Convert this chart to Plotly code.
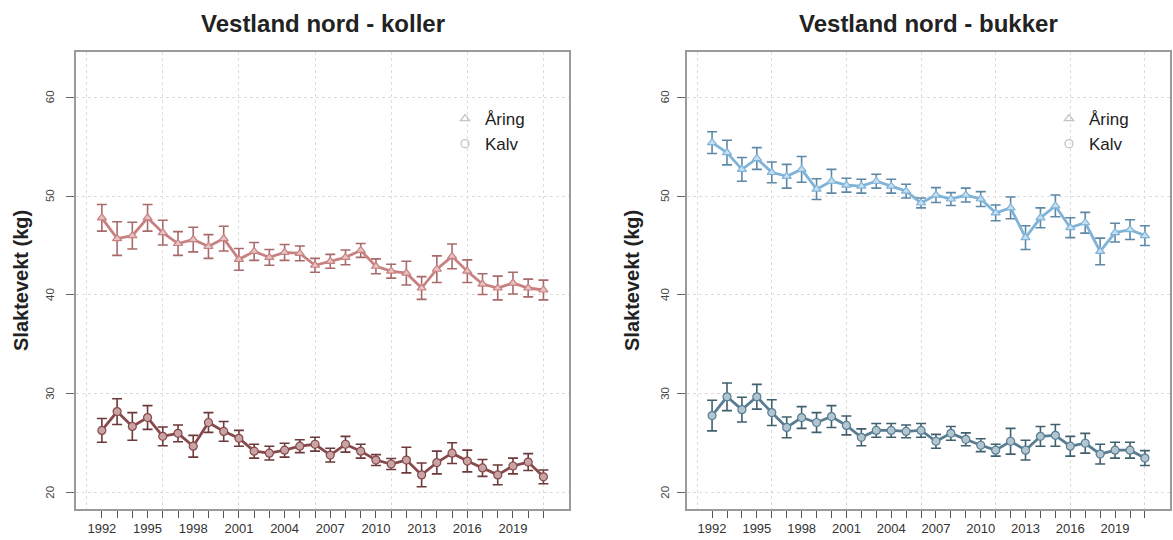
import plotly.graph_objects as go

years = list(range(1992, 2022))
tick_labels = [str(y) if (y - 1992) % 3 == 0 else "" for y in years]
y_ticks = [20, 30, 40, 50, 60]

koller_aring = [47.8, 45.7, 46.0, 47.8, 46.3, 45.2, 45.6, 44.9, 45.7, 43.6,
                44.4, 43.8, 44.3, 44.2, 43.0, 43.4, 43.8, 44.5, 42.9, 42.4,
                42.2, 40.7, 42.6, 43.9, 42.4, 41.1, 40.7, 41.2, 40.7, 40.5]
koller_aring_err = [1.35, 1.7, 1.35, 1.35, 1.25, 1.2, 1.25, 1.2, 1.25, 1.1,
                    0.9, 0.8, 0.8, 0.75, 0.7, 0.7, 0.75, 0.7, 0.75, 0.7,
                    1.2, 1.15, 1.35, 1.25, 1.15, 1.05, 1.2, 1.1, 0.9, 1.0]
koller_kalv = [26.3, 28.2, 26.7, 27.6, 25.7, 26.0, 24.7, 27.1, 26.2, 25.5,
               24.2, 24.0, 24.3, 24.7, 24.9, 23.8, 24.9, 24.2, 23.3, 22.9,
               23.3, 21.8, 23.05, 24.0, 23.2, 22.5, 21.8, 22.7, 23.1, 21.6]
koller_kalv_err = [1.2, 1.3, 1.4, 1.2, 0.95, 0.85, 1.1, 1.0, 1.0, 0.8,
                   0.7, 0.7, 0.7, 0.65, 0.7, 0.7, 0.8, 0.7, 0.55, 0.55,
                   1.3, 1.2, 1.15, 1.05, 1.1, 0.85, 1.0, 0.8, 0.85, 0.7]

bukker_aring = [55.4, 54.4, 52.7, 53.8, 52.4, 52.0, 52.7, 50.7, 51.5, 51.1,
                51.0, 51.5, 51.0, 50.5, 49.3, 50.1, 49.7, 50.1, 49.7, 48.3,
                48.8, 45.8, 47.8, 49.0, 46.8, 47.3, 44.4, 46.3, 46.6, 46.0]
bukker_aring_err = [1.1, 1.25, 1.2, 1.1, 1.05, 1.2, 1.3, 1.05, 1.2, 0.7,
                    0.7, 0.7, 0.7, 0.7, 0.5, 0.75, 0.65, 0.7, 0.75, 0.8,
                    1.1, 1.2, 1.0, 1.1, 1.0, 1.05, 1.35, 0.95, 1.0, 1.0]
bukker_kalv = [27.8, 29.7, 28.4, 29.7, 28.1, 26.6, 27.6, 27.1, 27.7, 26.8,
               25.6, 26.3, 26.3, 26.2, 26.3, 25.2, 26.0, 25.4, 24.8, 24.3,
               25.2, 24.3, 25.7, 25.8, 24.7, 25.0, 23.9, 24.3, 24.3, 23.5]
bukker_kalv_err = [1.55, 1.4, 1.25, 1.25, 1.3, 1.05, 1.1, 1.0, 1.1, 0.95,
                   0.85, 0.7, 0.7, 0.65, 0.7, 0.7, 0.7, 0.65, 0.65, 0.6,
                   1.3, 1.0, 1.0, 1.1, 1.0, 1.0, 1.0, 0.8, 0.8, 0.75]

titles = ["Vestland nord - koller", "Vestland nord - bukker"]
y_title = "Slaktevekt (kg)"
legend_names = ["Åring", "Kalv"]

FONT = "Liberation Sans, Arial, sans-serif"

fig = go.Figure()


def add_series(x, y, err, xa, ya, line_col, err_col, fill_col, symbol):
    fig.add_trace(go.Scatter(
        x=x, y=y, xaxis=xa, yaxis=ya, mode="lines+markers",
        line=dict(color=line_col, width=2.8),
        marker=dict(symbol=symbol, size=8, color=fill_col,
                    line=dict(color=line_col, width=1.2)),
        error_y=dict(type="data", array=err, visible=True,
                     color=err_col, thickness=1.6, width=5),
        showlegend=False, hoverinfo="x+y"))


add_series(years, koller_aring, koller_aring_err, "x", "y",
           "#c98080", "#a86a6a", "#e6c3c3", "triangle-up")
add_series(years, koller_kalv, koller_kalv_err, "x", "y",
           "#87494b", "#6c3a3a", "#c9a4a4", "circle")
add_series(years, bukker_aring, bukker_aring_err, "x2", "y2",
           "#7fb3d8", "#5d88a6", "#c5dff0", "triangle-up")
add_series(years, bukker_kalv, bukker_kalv_err, "x2", "y2",
           "#587d92", "#41606f", "#b2c6d2", "circle")

# legend entries (grey symbols, as in the reference)
for lg, xa, ya in [("legend", "x", "y"), ("legend2", "x2", "y2")]:
    for name, sym in zip(legend_names, ["triangle-up-open", "circle-open"]):
        fig.add_trace(go.Scatter(
            x=[None], y=[None], xaxis=xa, yaxis=ya, mode="markers", name=name,
            marker=dict(symbol=sym, size=8, color="#c4c4c4",
                        line=dict(width=1.3)),
            legend=lg, showlegend=True))

W, H = 1173, 540
y_dom = [(H - 509) / H, (H - 51.7) / H]
x1_dom = [76 / W, 569 / W]
x2_dom = [686.7 / W, 1170 / W]

xaxis_common = dict(
    range=[1990.3, 2022.68], tickvals=years, ticktext=tick_labels,
    ticks="outside", ticklen=7, tickcolor="#555", tickwidth=1,
    showgrid=False, zeroline=False,
    showline=True, mirror=True, linecolor="#9a9a9a", linewidth=1.5,
    tickfont=dict(family=FONT, size=13, color="#333"),
    minor=dict(tick0=1991, dtick=5, showgrid=True, gridcolor="#dcdcdc",
               griddash="dot", gridwidth=1, ticklen=0),
    fixedrange=True)
yaxis_common = dict(
    range=[18.35, 64.6], tickvals=y_ticks,
    ticks="outside", ticklen=8, tickcolor="#666", tickwidth=1,
    showticklabels=False,
    showgrid=True, gridcolor="#dcdcdc", griddash="dot",
    gridwidth=1, zeroline=False,
    showline=True, mirror=True, linecolor="#9a9a9a", linewidth=1.5,
    fixedrange=True)

legend_common = dict(xanchor="left", yanchor="top", bgcolor="rgba(0,0,0,0)",
                     font=dict(family=FONT, size=17, color="#222"),
                     itemwidth=30, tracegroupgap=0)

annotations = []
for t, xc in zip(titles, [(x1_dom[0] + x1_dom[1]) / 2,
                          (x2_dom[0] + x2_dom[1]) / 2]):
    annotations.append(dict(
        text="<b>" + t + "</b>", x=xc, y=(H - 23) / H,
        xref="paper", yref="paper", xanchor="center", yanchor="middle",
        showarrow=False, font=dict(family=FONT, size=24, color="#222")))
for xp in [21, 632]:
    annotations.append(dict(
        text="<b>" + y_title + "</b>", x=xp / W, y=(H - 281) / H,
        xref="paper", yref="paper", xanchor="center", yanchor="middle",
        textangle=-90, showarrow=False,
        font=dict(family=FONT, size=20, color="#222")))
# rotated y tick labels (R style, las=0), placed via the y axes' scale
for yref, xp in [("y", 50), ("y2", 665)]:
    for v in y_ticks:
        annotations.append(dict(
            text=str(v), x=xp / W, y=v, xref="paper", yref=yref,
            xanchor="center", yanchor="middle", textangle=-90,
            showarrow=False, font=dict(family=FONT, size=11.5, color="#444")))

fig.update_layout(
    width=W, height=H,
    margin=dict(l=0, r=0, t=0, b=0),
    paper_bgcolor="white", plot_bgcolor="white",
    xaxis=dict(domain=x1_dom, anchor="y", **xaxis_common),
    yaxis=dict(domain=y_dom, anchor="x", **yaxis_common),
    xaxis2=dict(domain=x2_dom, anchor="y2", **xaxis_common),
    yaxis2=dict(domain=y_dom, anchor="x2", **yaxis_common),
    legend=dict(x=445 / W, y=(H - 101) / H, **legend_common),
    legend2=dict(x=1049 / W, y=(H - 101) / H, **legend_common),
    annotations=annotations,
)

fig.write_html("out.html",
               config={"displayModeBar": False},
               post_script="document.body.style.margin='0';"
                           "document.body.style.overflow='hidden';")
